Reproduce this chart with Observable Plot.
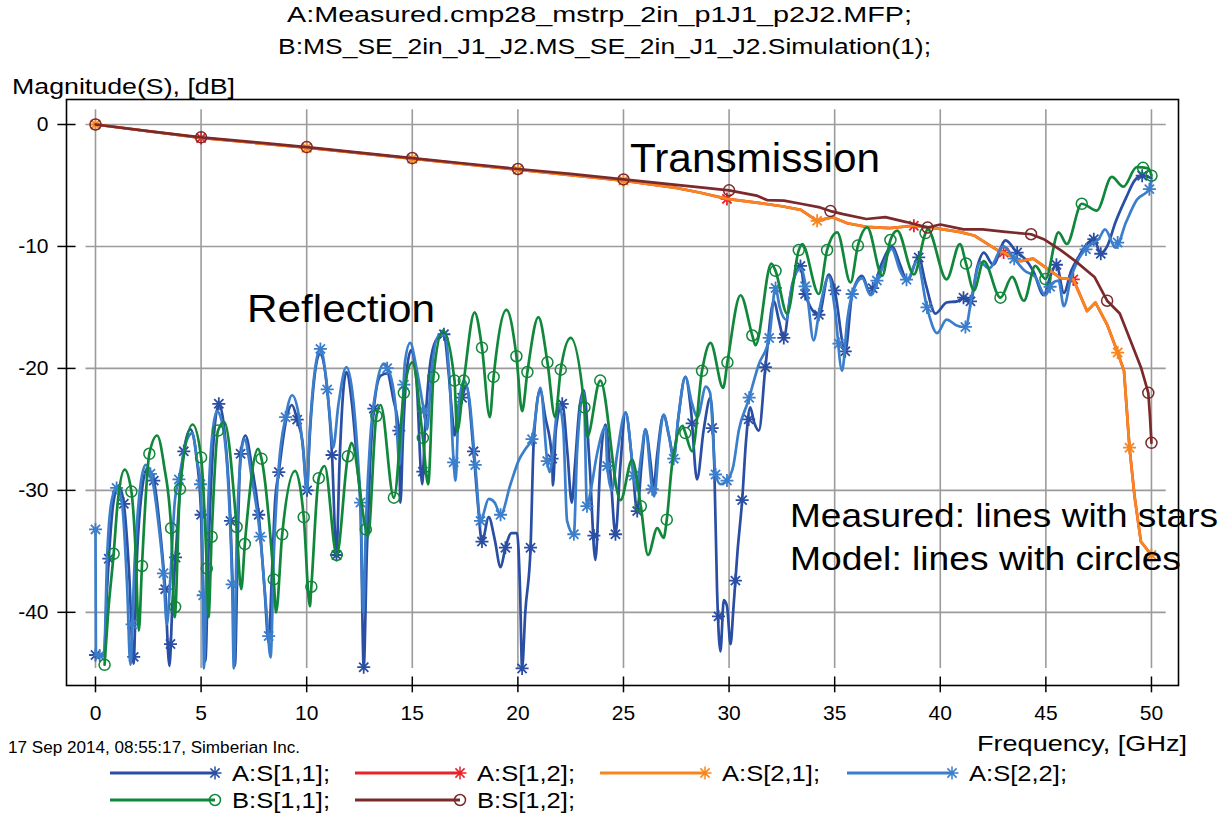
<!DOCTYPE html>
<html><head><meta charset="utf-8">
<script src="https://cdn.jsdelivr.net/npm/d3@7"></script>
<script src="https://cdn.jsdelivr.net/npm/@observablehq/plot@0.6"></script>
<style>html,body{margin:0;padding:0;background:#fff;overflow:hidden}</style>
</head><body><div id="chart"></div>
<script>
// ---------- texts ----------
const titleLines = ["A:Measured.cmp28_mstrp_2in_p1J1_p2J2.MFP;", "B:MS_SE_2in_J1_J2.MS_SE_2in_J1_J2.Simulation(1);"];
const yAxisLabel = "Magnitude(S), [dB]";
const xAxisLabel = "Frequency, [GHz]";
const footer = "17 Sep 2014, 08:55:17, Simberian Inc.";
const notes = ["Transmission", "Reflection", "Measured: lines with stars", "Model: lines with circles"];
const xTicks = [0, 5, 10, 15, 20, 25, 30, 35, 40, 45, 50];
const yTicks = [0, -10, -20, -30, -40];

// ---------- series [GHz, dB] ----------
const s11A = [[0,-43.5],[0.4,-43.5],[0.55,-38],[0.63,-35.6],[0.85,-31],[1.1,-29.6],[1.34,-31.1],[1.6,-37],[1.8,-44.2],[1.95,-36],[2.2,-30],[2.45,-28.2],[2.76,-29.2],[3.1,-34],[3.3,-38.1],[3.5,-44.4],[3.65,-39],[3.79,-35.5],[4.0,-30],[4.18,-26.8],[4.5,-25],[4.8,-27.5],[5.0,-32],[5.1,-38.6],[5.2,-44],[5.35,-35],[5.55,-27],[5.84,-22.9],[6.1,-25],[6.39,-32.5],[6.5,-38],[6.6,-44.4],[6.75,-33],[6.87,-27],[7.1,-25.5],[7.4,-28],[7.73,-32],[8.0,-38],[8.2,-42.5],[8.35,-37],[8.5,-31],[8.68,-28.5],[9.0,-24.5],[9.3,-23],[9.55,-24.2],[9.8,-26],[10.02,-30],[10.1,-27],[10.35,-21],[10.62,-18.8],[10.97,-21.7],[11.2,-27.1],[11.41,-35.3],[11.55,-28],[11.75,-21.5],[11.88,-20.3],[12.15,-23],[12.4,-28],[12.55,-31.5],[12.7,-44.5],[12.85,-35],[13.0,-28],[13.18,-23.3],[13.5,-20.6],[13.81,-20.4],[14.1,-22.5],[14.36,-25.1],[14.44,-31],[14.55,-26],[14.75,-20],[14.95,-18.5],[15.2,-21],[15.47,-29.5],[15.6,-25],[15.9,-19],[16.2,-17.5],[16.5,-17.2],[16.7,-20],[16.9,-24],[17.0,-25.5],[17.2,-23],[17.36,-22.4],[17.55,-21.4],[17.9,-26.8],[18.1,-31],[18.3,-34.2],[18.62,-32.2],[18.9,-34],[19.18,-36.3],[19.41,-34.7],[19.7,-33.5],[19.96,-33.5],[20.1,-38],[20.2,-44.6],[20.35,-40],[20.6,-34.7],[20.75,-26],[21.05,-21.8],[21.3,-24],[21.62,-27.4],[21.66,-29.6],[21.8,-25],[22.1,-22.9],[22.35,-27],[22.55,-31],[22.7,-28],[22.9,-23.5],[23.12,-21.8],[23.4,-28],[23.67,-35.7],[23.9,-28],[24.15,-24.6],[24.4,-29],[24.62,-33.6],[24.85,-28],[25.1,-23.6],[25.4,-27.5],[25.65,-31.7],[25.85,-28],[26.04,-25],[26.3,-28],[26.42,-29.8],[26.6,-27],[26.9,-23.8],[27.15,-25.5],[27.38,-27.2],[27.6,-24],[27.93,-20.7],[28.2,-23.5],[28.48,-29.1],[28.8,-25],[29.12,-22.4],[29.3,-28],[29.43,-38.1],[29.59,-43.2],[29.75,-39],[29.9,-39.5],[30.07,-42.6],[30.2,-39.8],[30.4,-35],[30.62,-30.8],[30.8,-26],[31.0,-23.2],[31.2,-24.5],[31.41,-25.1],[31.72,-19.9],[32.12,-14.45],[32.35,-16],[32.59,-17.5],[32.9,-14],[33.38,-11.6],[33.6,-13.9],[34.25,-15.6],[34.72,-12.3],[35.0,-13.6],[35.5,-18.6],[35.83,-13.9],[36.3,-12.4],[36.7,-13.9],[37.2,-11.5],[37.72,-10.0],[38.1,-11.5],[38.43,-12.8],[38.98,-10.9],[39.3,-13],[39.77,-15.5],[40.3,-14.6],[40.8,-14.5],[41.1,-14.2],[41.43,-14.5],[41.75,-11.7],[42.06,-10.5],[42.5,-11.5],[43.09,-9.5],[43.64,-10.5],[44.0,-11],[44.4,-12],[44.9,-14],[45.2,-12.5],[45.5,-11.5],[45.85,-13.8],[46.2,-12],[46.5,-11],[47.0,-9.7],[47.27,-9.4],[47.6,-10.6],[47.9,-10],[48.3,-8],[48.8,-6],[49.2,-4.6],[49.56,-4.2],[50,-4.4]];
const s11AStars = [0,0.63,1.34,1.81,2.76,3.3,3.55,3.79,4.18,5.0,5.84,6.39,6.87,7.73,8.68,9.55,10.02,11.2,11.41,12.7,13.18,14.36,15.5,16.5,17.36,17.9,18.3,19.41,20.2,20.6,21.62,22.1,23.6,24.62,25.65,28.25,29.2,29.5,30.3,30.62,30.93,31.72,32.59,33.38,33.6,34.25,35.0,35.5,36.8,38.98,41.1,41.43,43.64,45.5,47.27,47.6,49.56];

const s22A = [[0,-33.2],[0.02,-43.5],[0.4,-43.6],[0.55,-35.5],[0.75,-31],[1.0,-29.8],[1.25,-31],[1.5,-38],[1.65,-44.3],[1.85,-36],[2.1,-30],[2.37,-27.9],[2.65,-28.8],[3.0,-33],[3.22,-36.8],[3.38,-41],[3.55,-37],[3.75,-31],[3.95,-29.1],[4.3,-26],[4.58,-25.3],[4.8,-27.5],[4.97,-29.5],[5.1,-38.6],[5.13,-44.6],[5.3,-33],[5.5,-26],[5.75,-23.5],[6.0,-24.5],[6.3,-30],[6.47,-37.7],[6.55,-44.6],[6.7,-33],[6.9,-27],[7.05,-25.8],[7.4,-29],[7.8,-33.8],[8.1,-40],[8.29,-43.7],[8.45,-35],[8.68,-28],[9.0,-24],[9.31,-22.2],[9.6,-23.6],[9.85,-27],[10.0,-30.2],[10.15,-25],[10.4,-20],[10.65,-18.4],[10.9,-20.5],[11.1,-24],[11.25,-26.5],[11.5,-23],[11.88,-19.9],[12.2,-22.5],[12.45,-28],[12.55,-31],[12.68,-40],[12.8,-33],[13.0,-26],[13.3,-21.5],[13.65,-19.6],[13.9,-20.2],[14.2,-23],[14.4,-27.9],[14.5,-25],[14.65,-19.5],[14.9,-17.9],[15.2,-20],[15.55,-23.5],[15.7,-25],[15.9,-20.5],[16.25,-17.3],[16.55,-17.3],[16.75,-20.5],[16.96,-27.7],[17.05,-29.2],[17.2,-23],[17.45,-21],[17.7,-22.5],[18.0,-28.3],[18.23,-32.5],[18.62,-30.7],[18.9,-31],[19.18,-32],[19.65,-29.5],[20.05,-27.5],[20.4,-26.5],[20.67,-25.8],[21.07,-21.6],[21.39,-27.6],[21.5,-28.5],[21.94,-22.9],[22.15,-25],[22.33,-32.5],[22.65,-33.6],[22.8,-27],[23.12,-22],[23.27,-31.3],[23.45,-30],[23.75,-27],[24.15,-24.8],[24.23,-28],[24.45,-30],[24.7,-27],[25.1,-23.6],[25.49,-28.8],[25.6,-30],[25.85,-27],[26.04,-25],[26.36,-29.9],[26.45,-30.5],[26.7,-26],[26.9,-23.8],[27.15,-25.5],[27.38,-27.4],[27.6,-24],[27.93,-20.7],[28.25,-22.9],[28.5,-24],[28.9,-21.5],[29.1,-22],[29.36,-28.7],[29.6,-29.5],[29.9,-29.2],[30.2,-28],[30.46,-25.1],[30.9,-22.7],[31.4,-19.7],[31.9,-17.5],[32.2,-13.4],[32.4,-15],[32.7,-16],[33.0,-13],[33.4,-11.8],[33.7,-14],[34.0,-17.7],[34.3,-15],[34.72,-12.5],[35.0,-15],[35.35,-20.2],[35.6,-16],[35.83,-13.9],[36.3,-12.6],[36.7,-14],[37.2,-12],[37.7,-10.2],[38.1,-12],[38.43,-12.8],[38.9,-11.2],[39.37,-15],[39.85,-17.1],[40.3,-16],[40.8,-16.5],[41.2,-16.6],[41.5,-14],[41.9,-11.3],[42.3,-11.8],[43.0,-10],[43.5,-11],[44.0,-12],[44.5,-12.5],[44.97,-14],[45.3,-13],[45.6,-12.8],[45.85,-14.9],[46.2,-12.5],[46.5,-11.2],[47.0,-10],[47.5,-9.4],[47.8,-8.6],[48.3,-10.1],[48.8,-8],[49.3,-6.2],[49.9,-5.3],[50,-4.6]];
const s22AStars = [0,0.2,1.0,1.73,2.6,3.22,3.95,4.97,5.1,6.47,7.8,8.2,9.0,10.65,10.97,12.55,13.81,14.6,15.55,16.96,17.98,18.23,19.18,20.67,21.39,22.65,23.27,24.23,25.49,26.36,27.38,29.36,29.9,30.95,31.9,32.2,33.6,35.2,35.83,37.0,38.4,39.37,41.19,43.5,45.2,46.9,48.4,49.9];

const s21A = [[0,0],[5,-1.1],[10,-1.9],[15,-2.8],[20,-3.7],[25,-4.6],[27.5,-5.2],[28.65,-5.6],[29.9,-6.1],[31.3,-6.4],[32.5,-6.7],[33.4,-7.0],[34.17,-7.9],[34.9,-7.6],[35.6,-8.1],[36.5,-8.4],[37.6,-8.5],[38.75,-8.3],[39.6,-8.45],[40.9,-8.8],[41.6,-9.1],[42.7,-10.3],[43.0,-10.5],[43.8,-11.2],[44.4,-11.0],[45.05,-11.8],[45.7,-12.6],[46.3,-12.7],[46.95,-15.3],[47.35,-14.6],[47.9,-16.4],[48.4,-18.7],[48.7,-20.2],[48.96,-26.5],[49.2,-30.5],[49.5,-34.2],[50,-35.3]];
const s21AStars = [0,10,15,20,25,34.17,48.4,48.96,50];
const s12A = s21A.map(d => [d[0], d[1]]);
const s12AStars = [5,29.9,38.75,43.0,46.3];

const s11B = [[0.43,-44.3],[0.6,-40],[0.86,-35.2],[1.05,-31],[1.38,-28.3],[1.7,-30.1],[1.9,-35],[2.05,-41.5],[2.2,-36.2],[2.55,-27],[2.92,-25.5],[3.25,-28],[3.58,-33.1],[3.75,-40.4],[4.0,-29.9],[4.6,-24.6],[5.0,-27.3],[5.27,-36.4],[5.35,-40.4],[5.5,-33.8],[5.8,-25.1],[6.1,-24.4],[6.68,-33],[6.9,-38.1],[7.07,-34.4],[7.7,-26.6],[7.86,-27.4],[8.44,-37.3],[8.55,-40],[8.84,-33.6],[9.45,-28.4],[9.86,-32.2],[10.15,-39.5],[10.22,-37.9],[10.57,-29],[10.85,-28],[11.42,-35.3],[11.95,-27.2],[12.12,-26.1],[12.8,-33.2],[12.9,-33.8],[13.3,-23.9],[13.5,-23.0],[14.13,-30.6],[14.6,-22],[15.0,-19.5],[15.5,-25.7],[15.75,-29.5],[16.0,-20.7],[16.45,-16.9],[17.0,-21],[17.12,-25.2],[17.44,-21],[17.95,-15.4],[18.3,-18.3],[18.67,-24],[18.85,-20.7],[19.46,-15.2],[19.93,-19.0],[20.2,-23.5],[20.45,-20.3],[20.97,-15.8],[21.4,-19.5],[21.76,-24],[22.03,-20.1],[22.5,-17.5],[23.15,-23.2],[23.28,-25.6],[23.9,-21.0],[24.86,-30.8],[25.41,-27.5],[25.82,-31.3],[26.16,-35.3],[26.6,-33.1],[26.9,-33.9],[27.05,-32.4],[27.3,-27.9],[27.8,-24.7],[27.93,-25.3],[28.25,-26.8],[28.72,-20.2],[29.12,-17.9],[29.72,-21.6],[29.92,-19.5],[30.54,-14.0],[31.1,-17.3],[31.25,-18.1],[32.0,-11.4],[32.2,-12],[32.75,-15.5],[33.3,-10.3],[33.46,-9.8],[34.25,-13.9],[34.64,-10.3],[35.12,-8.84],[35.75,-12.95],[36.1,-9.93],[36.54,-8.43],[37.25,-12.4],[37.64,-9.47],[37.96,-8.7],[38.75,-12.3],[39.3,-8.9],[39.4,-8.6],[40.3,-12.7],[40.93,-9.8],[41.22,-11.4],[41.59,-13.6],[42.06,-11.2],[42.85,-14.2],[43.4,-12.5],[43.96,-14.45],[44.5,-11.6],[44.98,-12.67],[45.6,-8.84],[45.99,-9.8],[46.7,-6.5],[47.41,-7.06],[48.12,-4.3],[48.67,-5.1],[49.3,-3.5],[49.86,-3.6],[50,-4.2]];
const s11BCircles = [0.43,0.86,1.7,2.2,2.55,3.58,3.77,4.0,5.0,5.27,5.5,5.8,6.68,7.07,7.86,8.44,8.84,9.86,10.22,10.57,11.42,11.95,12.8,13.3,14.13,14.6,15.5,16.0,17.0,17.44,18.3,18.85,19.93,20.45,21.4,22.03,23.15,23.9,25.82,27.05,27.93,28.72,29.92,31.1,32.2,33.3,34.64,36.1,37.64,39.3,41.22,42.85,44.98,46.7,49.6,50];

const s12B = [[0,0],[2.5,-0.55],[5,-1.05],[7.5,-1.45],[10,-1.85],[12.5,-2.3],[15,-2.75],[17.5,-3.2],[20,-3.65],[22.5,-4.05],[25,-4.5],[27.5,-4.95],[28.65,-5.15],[30,-5.4],[31.3,-5.83],[31.8,-6.2],[32.6,-6.24],[33.4,-6.5],[34.3,-6.8],[34.8,-7.1],[35.4,-7.35],[36.5,-7.75],[37.4,-7.6],[38.4,-8.0],[39.4,-8.45],[40,-8.2],[41.1,-8.6],[42,-8.6],[43.1,-8.8],[44.3,-9.0],[44.9,-9.4],[45.7,-10.3],[46.4,-11.2],[47.3,-12.5],[47.9,-14.45],[48.5,-15.5],[49.0,-17.7],[49.5,-19.9],[49.85,-22],[49.93,-24],[50,-26.1]];
const s12BCircles = [0,5,10,15,20,25,30,34.8,39.4,44.3,47.9,49.85,50];

// ---------- series table (legend order) ----------
const seriesNames = ["A:S[1,1];", "A:S[1,2];", "A:S[2,1];", "A:S[2,2];", "B:S[1,1];", "B:S[1,2];"];
const seriesColors = ["#2a4ea3", "#e8222b", "#f7861e", "#3b7ecb", "#10873a", "#7a2a2b"];
const seriesData = [s11A, s12A, s21A, s22A, s11B, s12B];
const seriesMarks = [s11AStars, s12AStars, s21AStars, s22AStars, s11BCircles, s12BCircles];
const seriesSymbols = ["star", "star", "star", "star", "circle", "circle"];
const seriesCurves = ["monotone-x", "linear", "linear", "monotone-x", "monotone-x", "linear"];

function interp(data, f) {
  for (let i = 1; i < data.length; i++) {
    if (data[i][0] >= f) {
      const [x0, y0] = data[i - 1], [x1, y1] = data[i];
      const t = x1 === x0 ? 0 : (f - x0) / (x1 - x0);
      return y0 + t * (y1 - y0);
    }
  }
  return data[data.length - 1][1];
}

const starSymbol = {
  draw(ctx, size) {
    const r = Math.sqrt(size / Math.PI);
    for (const a of [0, 45, 90, 135]) {
      const t = a * Math.PI / 180, c = Math.cos(t) * r, s = Math.sin(t) * r;
      ctx.moveTo(c, s); ctx.lineTo(-c, -s);
    }
  }
};

const W = 1222, H = 818;
const series = seriesNames.map((name, i) => ({
  name, color: seriesColors[i], symbol: seriesSymbols[i], curve: seriesCurves[i],
  data: seriesData[i].map(([f, v]) => ({f, v})),
  marks: seriesMarks[i].map(f => ({f, v: interp(seriesData[i], f)}))
}));
const drawOrder = [0, 1, 2, 3, 4, 5];

const marks = [
  Plot.ruleX(xTicks, {x: d => d, y1: -44.6, y2: 1.2, stroke: "#9b9b9b", strokeWidth: 1.6}),
  Plot.ruleY(yTicks, {y: d => d, x1: -0.45, x2: 50.7, stroke: "#9b9b9b", strokeWidth: 1.6}),
];
for (const i of drawOrder) {
  const s = series[i];
  marks.push(Plot.line(s.data, {x: "f", y: "v", stroke: s.color, strokeWidth: 2.7, curve: s.curve}));
  marks.push(Plot.dot(s.marks, {x: "f", y: "v", stroke: s.color, strokeWidth: s.symbol === "star" ? 1.8 : 1.5, fill: "none",
    symbol: s.symbol === "star" ? starSymbol : "circle", r: s.symbol === "star" ? 6.5 : 5.5}));
}
marks.push(
  Plot.frame({stroke: "#000", strokeWidth: 1.6}),
  Plot.ruleX(xTicks, {x: d => d, y1: -45.3, y2: -46.6, stroke: "#000", strokeWidth: 1.5}),
  Plot.ruleY(yTicks, {y: d => d, x1: -1.78, x2: -0.92, stroke: "#000", strokeWidth: 1.5}),
  Plot.text(xTicks, {x: d => d, y: -46.0, dy: 28, text: d => String(d), fontSize: 21, fill: "#000"}),
  Plot.text(yTicks, {x: -1.373, y: d => d, dx: -18, text: d => String(d), textAnchor: "end", fontSize: 21, fill: "#000"})
);

const chart = Plot.plot({
  width: W, height: H,
  marginLeft: 66, marginRight: 44, marginTop: 99, marginBottom: 133,
  x: {domain: [-1.373, 51.28], axis: null},
  y: {domain: [-46.0, 2.05], axis: null},
  style: {fontFamily: "'Liberation Sans', Arial, sans-serif", background: "#fff", overflow: "visible"},
  marks
});
document.getElementById("chart").appendChild(chart);

// ---------- titles, labels, notes, legend ----------
const svg = d3.select(chart);
const g = svg.append("g").attr("font-family", "'Liberation Sans', Arial, sans-serif").attr("fill", "#000");
function txt(s, x, y, size, len, anchor = "start") {
  const t = g.append("text").attr("x", x).attr("y", y).attr("font-size", size).attr("text-anchor", anchor).text(s);
  if (len) t.attr("textLength", len).attr("lengthAdjust", "spacingAndGlyphs");
  return t;
}
txt(titleLines[0], 287, 22, 22, 625);
txt(titleLines[1], 278, 54, 22, 653);
txt(yAxisLabel, 12, 94, 22, 223);
txt(xAxisLabel, 977, 751, 22, 210);
txt(footer, 8, 753, 16, 292);
txt(notes[0], 630, 172, 40, 250);
txt(notes[1], 247, 322, 38, 188);
txt(notes[2], 790, 527, 33, 428);
txt(notes[3], 790, 570, 33, 391);

const legendPos = [[110, 773], [355, 773], [600, 773], [847, 773], [110, 800], [355, 800]];
const legendTextLen = 98;
series.forEach((s, i) => {
  const [x0, y0] = legendPos[i];
  g.append("line").attr("x1", x0).attr("x2", x0 + 105).attr("y1", y0).attr("y2", y0)
    .attr("stroke", s.color).attr("stroke-width", 3);
  const sym = s.symbol === "star" ? starSymbol : d3.symbolCircle;
  g.append("path").attr("d", d3.symbol(sym, Math.PI * (s.symbol === "star" ? 6.5 : 5.5) ** 2)())
    .attr("transform", `translate(${x0 + 105},${y0})`).attr("fill", "none")
    .attr("stroke", s.color).attr("stroke-width", 1.5);
  txt(s.name, x0 + 122, y0 + 8, 22, legendTextLen);
});
</script>
</body></html>
